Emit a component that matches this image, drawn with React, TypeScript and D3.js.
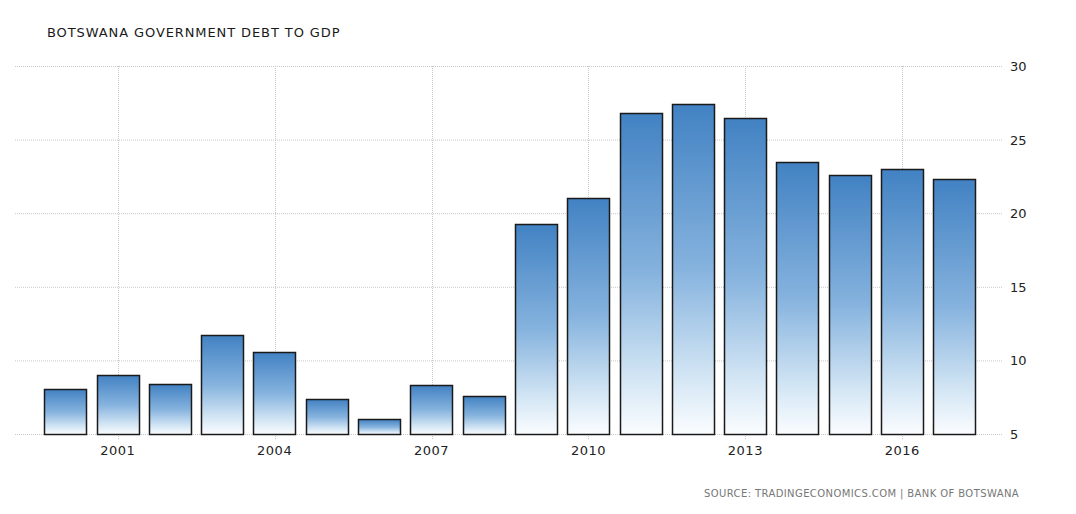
import React, { useEffect, useRef } from 'react';
import * as d3 from 'd3';

const years = ['2000', '2001', '2002', '2003', '2004', '2005', '2006', '2007', '2008', '2009', '2010', '2011', '2012', '2013', '2014', '2015', '2016', '2017'];
const debt = [8.05, 9.0, 8.4, 11.7, 10.6, 7.4, 6.0, 8.3, 7.6, 19.3, 21.05, 26.8, 27.4, 26.5, 23.5, 22.6, 23.0, 22.3];
const yTicks = [5, 10, 15, 20, 25, 30];
const xLabels = ['2001', '2004', '2007', '2010', '2013', '2016'];

const App: React.FC = () => {
  const svgRef = useRef<SVGSVGElement | null>(null);

  useEffect(() => {
    if (!svgRef.current) return;
    const svg = d3.select(svgRef.current);
    svg.selectAll('*').remove();

    const width = 1076;
    const height = 514;
    const plot = { left: 15, right: 995, top: 66, bottom: 434 };
    const font = 'Tahoma, "DejaVu Sans", Verdana, sans-serif';

    svg.append('rect').attr('width', width).attr('height', height).attr('fill', '#fff');

    // Gradient for the bars
    const defs = svg.append('defs');
    const grad = defs.append('linearGradient')
      .attr('id', 'barGrad')
      .attr('x1', 0).attr('y1', 0).attr('x2', 0).attr('y2', 1);
    grad.append('stop').attr('offset', '0%').attr('stop-color', '#4282c3');
    grad.append('stop').attr('offset', '50%').attr('stop-color', '#86b3de');
    grad.append('stop').attr('offset', '82%').attr('stop-color', '#d2e5f4');
    grad.append('stop').attr('offset', '100%').attr('stop-color', '#fbfdff');

    const x = d3.scaleBand()
      .domain(years)
      .range([39, 981])
      .paddingInner(0.19)
      .paddingOuter(0.1);

    const y = d3.scaleLinear().domain([5, 30]).range([plot.bottom, plot.top]);

    // Horizontal grid
    svg.append('g')
      .selectAll('line')
      .data(yTicks)
      .enter()
      .append('line')
      .attr('x1', plot.left)
      .attr('x2', 1003)
      .attr('y1', d => y(d) + 0.5)
      .attr('y2', d => y(d) + 0.5)
      .attr('stroke', '#c8c8c8')
      .attr('stroke-width', 1)
      .attr('stroke-dasharray', '1,1');

    // Vertical grid at labelled years
    svg.append('g')
      .selectAll('line')
      .data(xLabels)
      .enter()
      .append('line')
      .attr('x1', d => Math.round((x(d) || 0) + x.bandwidth() / 2) + 0.5)
      .attr('x2', d => Math.round((x(d) || 0) + x.bandwidth() / 2) + 0.5)
      .attr('y1', plot.top)
      .attr('y2', plot.bottom + 5)
      .attr('stroke', '#c8c8c8')
      .attr('stroke-width', 1)
      .attr('stroke-dasharray', '1,1');

    // Bars
    svg.append('g')
      .selectAll('rect')
      .data(debt)
      .enter()
      .append('rect')
      .attr('x', (d, i) => Math.round(x(years[i]) || 0) + 0.5)
      .attr('y', d => Math.round(y(d)) + 0.5)
      .attr('width', Math.round(x.bandwidth()))
      .attr('height', d => Math.round(plot.bottom - y(d)))
      .attr('fill', 'url(#barGrad)')
      .attr('stroke', '#1a1a1a')
      .attr('stroke-width', 1.5);

    // Y labels
    svg.append('g')
      .selectAll('text')
      .data(yTicks)
      .enter()
      .append('text')
      .attr('x', 1010)
      .attr('y', d => y(d) + 5)
      .attr('font-family', font)
      .attr('font-size', 13)
      .attr('fill', '#222')
      .text(d => d);

    // X labels
    svg.append('g')
      .selectAll('text')
      .data(xLabels)
      .enter()
      .append('text')
      .attr('x', d => (x(d) || 0) + x.bandwidth() / 2)
      .attr('y', 455)
      .attr('text-anchor', 'middle')
      .attr('font-family', font)
      .attr('font-size', 13)
      .attr('letter-spacing', 0.5)
      .attr('fill', '#222')
      .text(d => d);

    // Title
    svg.append('text')
      .attr('x', 47)
      .attr('y', 37)
      .attr('font-family', font)
      .attr('font-size', 13)
      .attr('letter-spacing', 0.9)
      .attr('fill', '#1a1a1a')
      .text('BOTSWANA GOVERNMENT DEBT TO GDP');

    // Source
    svg.append('text')
      .attr('x', 1019)
      .attr('y', 497)
      .attr('text-anchor', 'end')
      .attr('font-family', font)
      .attr('font-size', 10)
      .attr('letter-spacing', 0.4)
      .attr('fill', '#777')
      .text('SOURCE: TRADINGECONOMICS.COM | BANK OF BOTSWANA');
  }, []);

  return (
    <div style={{ position: 'absolute', left: 0, top: 0 }}>
      <svg ref={svgRef} width={1076} height={514}></svg>
    </div>
  );
};

export default App;
